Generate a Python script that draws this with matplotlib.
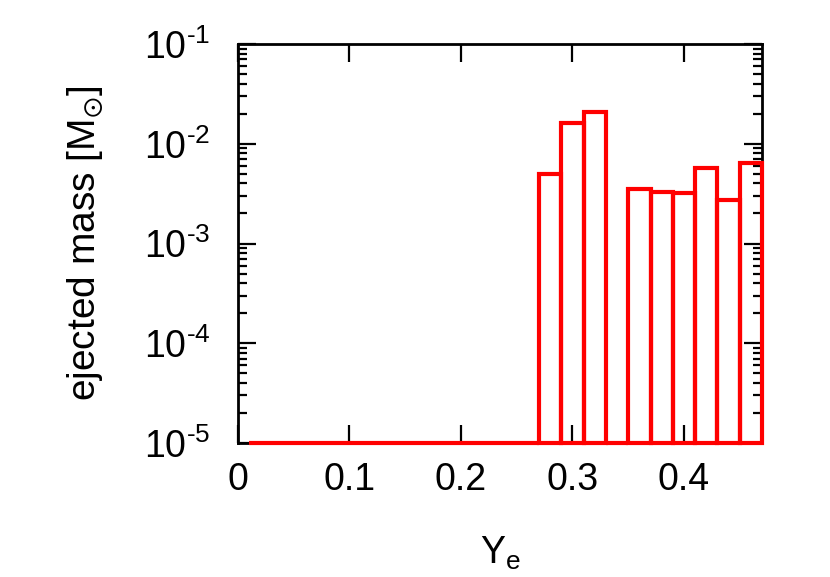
import matplotlib
matplotlib.use('Agg')
import matplotlib.pyplot as plt
from matplotlib.ticker import FixedLocator, FixedFormatter, LogLocator, NullLocator

plt.rcParams['font.family'] = ['Liberation Sans', 'DejaVu Sans']
plt.rcParams['mathtext.fontset'] = 'custom'
plt.rcParams['mathtext.rm'] = 'Liberation Sans'
plt.rcParams['mathtext.it'] = 'Liberation Sans'
plt.rcParams['mathtext.fallback'] = 'stix'

# Ye bins (width 0.02) and ejected mass per bin
bin_centers = [0.02, 0.04, 0.06, 0.08, 0.10, 0.12, 0.14, 0.16, 0.18, 0.20, 0.22, 0.24,
               0.26, 0.28, 0.30, 0.32, 0.34, 0.36, 0.38, 0.40, 0.42, 0.44, 0.46]
mass = [0, 0, 0, 0, 0, 0, 0, 0, 0, 0, 0, 0,
        0, 5.0e-3, 1.6e-2, 2.1e-2, 0, 3.5e-3, 3.3e-3, 3.2e-3, 5.7e-3, 2.7e-3, 6.4e-3]
bin_width = 0.02
base = 1e-5

x_ticks = [0, 0.1, 0.2, 0.3, 0.4]
x_labels = ['0', '0.1', '0.2', '0.3', '0.4']
y_ticks = [1e-5, 1e-4, 1e-3, 1e-2, 1e-1]
y_labels = ['$\\mathregular{10^{\u2010%d}}$' % n for n in [5, 4, 3, 2, 1]]

fig = plt.figure(figsize=(8.3, 5.77), dpi=100)
ax = fig.add_axes([238 / 830, 1 - 443 / 577, 524 / 830, 399 / 577])

heights = [max(m - base, 0) for m in mass]
ax.bar(bin_centers, heights, width=bin_width, bottom=base, fill=False,
       edgecolor='#ff0000', linewidth=3, clip_on=False, zorder=5)

ax.set_yscale('log')
ax.set_xlim(0, 0.47)
ax.set_ylim(1e-5, 1e-1)

ax.xaxis.set_major_locator(FixedLocator(x_ticks))
ax.xaxis.set_major_formatter(FixedFormatter(x_labels))
ax.xaxis.set_minor_locator(NullLocator())
ax.yaxis.set_major_locator(FixedLocator(y_ticks))
ax.yaxis.set_major_formatter(FixedFormatter(y_labels))
ax.yaxis.set_minor_locator(LogLocator(base=10, subs=[2, 3, 4, 5, 6, 7, 8, 9]))

for s in ax.spines.values():
    s.set_linewidth(2)
ax.tick_params(which='both', direction='in', top=True, right=True, width=1.6)
ax.tick_params(which='major', length=13, labelsize=27)
ax.tick_params(axis='x', which='major', pad=14)
ax.tick_params(axis='y', which='major', pad=20)
ax.tick_params(which='minor', length=6.5)

ax.set_xlabel(r'Y$_\mathregular{e}$', fontsize=27, labelpad=26)
ax.set_ylabel(r'ejected mass [M$_{\odot}$]', fontsize=28, labelpad=27)

fig.savefig('out.png', dpi=100)
